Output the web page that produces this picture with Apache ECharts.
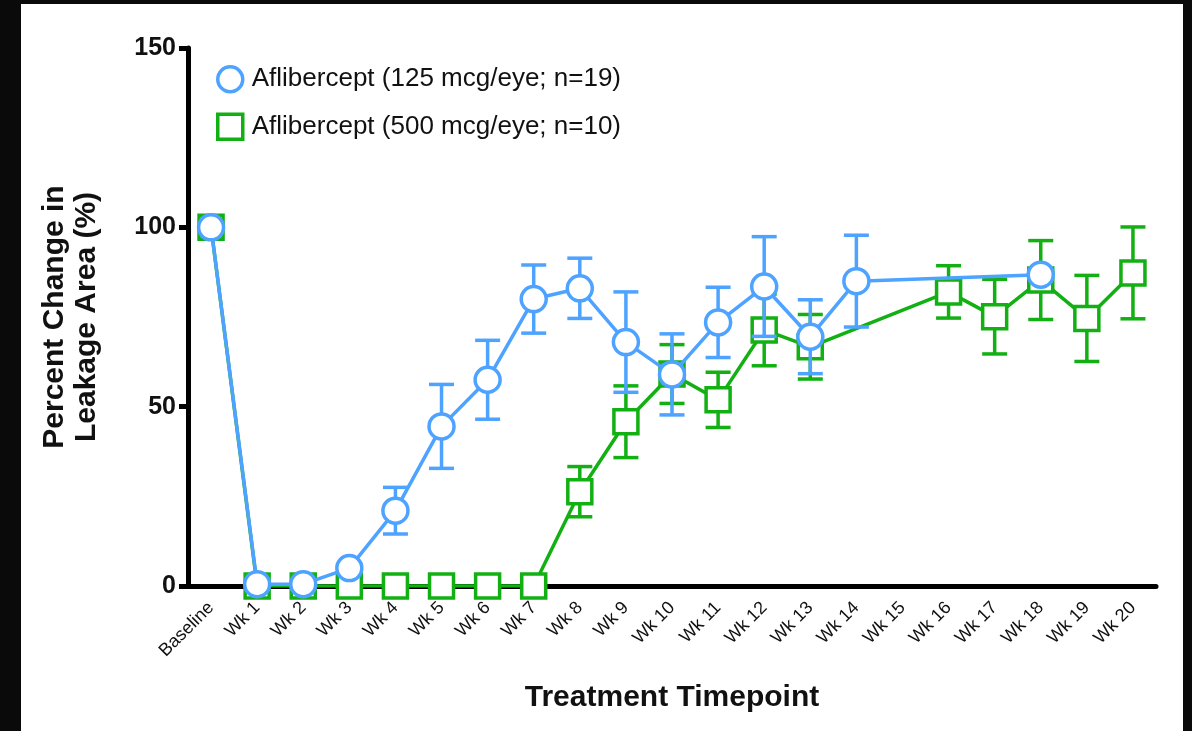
<!DOCTYPE html>
<html>
<head>
<meta charset="utf-8">
<script src="https://cdn.jsdelivr.net/npm/echarts@6/dist/echarts.min.js"></script>
<style>
html,body{margin:0;padding:0;background:#fff;}
#chart{width:1192px;height:731px;}
</style>
</head>
<body>
<div id="chart"></div>
<script>
var categories = ['Baseline','Wk 1','Wk 2','Wk 3','Wk 4','Wk 5','Wk 6','Wk 7','Wk 8','Wk 9','Wk 10','Wk 11','Wk 12','Wk 13','Wk 14','Wk 15','Wk 16','Wk 17','Wk 18','Wk 19','Wk 20'];
var yTicks = [0, 50, 100, 150];
var lowDoseName = 'Aflibercept (125 mcg/eye; n=19)';
var highDoseName = 'Aflibercept (500 mcg/eye; n=10)';
var lowDoseMean = [100, 0.5, 0.5, 5, 21, 44.5, 57.5, 80, 83, 68, 59, 73.5, 83.5, 69.5, 85, null, null, null, 86.8, null, null];
var lowDoseErr  = [null, null, null, null, 6.5, 11.7, 11, 9.5, 8.4, 14, 11.3, 9.8, 13.9, 10.3, 12.8, null, null, null, null, null, null];
var highDoseMean = [100, 0, 0, 0, 0, 0, 0, 0, 26.3, 45.8, 59.1, 51.9, 71.4, 66.7, null, null, 82, 75.1, 85.3, 74.6, 87.3];
var highDoseErr  = [null, null, null, null, null, null, null, null, 7, 10, 8.2, 7.7, 10, 9, null, null, 7.3, 10.4, 11, 12, 12.8];

var blue = '#4da3ff';
var green = '#12b012';

function errData(mean, err) {
  var out = [];
  for (var i = 0; i < mean.length; i++) {
    if (mean[i] != null && err[i] != null) out.push([i, mean[i] - err[i], mean[i] + err[i]]);
  }
  return out;
}
function errRender(color) {
  return function (params, api) {
    var x = api.value(0);
    var lo = api.coord([x, api.value(1)]);
    var hi = api.coord([x, api.value(2)]);
    var hw = 12.5;
    var st = {stroke: color, lineWidth: 3.5};
    return {type: 'group', children: [
      {type: 'line', shape: {x1: lo[0], y1: lo[1], x2: hi[0], y2: hi[1]}, style: st},
      {type: 'line', shape: {x1: hi[0] - hw, y1: hi[1], x2: hi[0] + hw, y2: hi[1]}, style: st},
      {type: 'line', shape: {x1: lo[0] - hw, y1: lo[1], x2: lo[0] + hw, y2: lo[1]}, style: st}
    ]};
  };
}

var chart = echarts.init(document.getElementById('chart'));
chart.setOption({
  animation: false,
  backgroundColor: '#ffffff',
  textStyle: {fontFamily: 'Liberation Sans, Arial, sans-serif'},
  graphic: [
    {type: 'rect', shape: {x: 0, y: 0, width: 21, height: 731}, style: {fill: '#0a0a0a'}, z: 100},
    {type: 'rect', shape: {x: 0, y: 0, width: 1192, height: 4}, style: {fill: '#0a0a0a'}, z: 100},
    {type: 'rect', shape: {x: 1183, y: 0, width: 9, height: 731}, style: {fill: '#0a0a0a'}, z: 100}
  ],
  grid: {left: 188, right: 36, top: 48, bottom: 145},
  legend: {
    orient: 'vertical', left: 211, top: 60,
    itemWidth: 25, itemHeight: 25, itemGap: 19,
    textStyle: {fontSize: 26, color: '#111', fontFamily: 'Liberation Sans, Arial, sans-serif', padding: [0, 0, 0, 4]},
    data: [
      {name: lowDoseName, icon: 'circle', itemStyle: {color: '#fff', borderColor: blue, borderWidth: 3.5}},
      {name: highDoseName, icon: 'rect', itemStyle: {color: '#fff', borderColor: green, borderWidth: 3.5}}
    ]
  },
  xAxis: {
    type: 'category', data: categories, boundaryGap: true,
    name: 'Treatment Timepoint', nameLocation: 'middle', nameGap: 97,
    nameTextStyle: {fontSize: 30, fontWeight: 'bold', color: '#111'},
    axisLine: {lineStyle: {color: '#000', width: 5}},
    axisTick: {alignWithLabel: true, length: 9, lineStyle: {color: '#000', width: 5}},
    axisLabel: {rotate: 45, fontSize: 18, color: '#111', margin: 19, interval: 0}
  },
  yAxis: {
    type: 'value', min: 0, max: 150, interval: 50,
    name: 'Percent Change in\nLeakage Area (%)', nameLocation: 'middle', nameGap: 85,
    nameTextStyle: {fontSize: 30, fontWeight: 'bold', color: '#111', lineHeight: 32},
    axisLine: {show: true, lineStyle: {color: '#000', width: 5}},
    axisTick: {show: true, length: 9, lineStyle: {color: '#000', width: 5}},
    splitLine: {show: false},
    axisLabel: {fontSize: 25, fontWeight: 'bold', color: '#111', margin: 12,
      formatter: function (v) { return yTicks.indexOf(v) >= 0 ? String(v) : ''; }}
  },
  series: [
    {type: 'custom', name: highDoseName + ' err', data: errData(highDoseMean, highDoseErr), renderItem: errRender(green), z: 1, silent: true},
    {type: 'line', name: highDoseName, data: highDoseMean, connectNulls: true, z: 2,
      symbol: 'rect', symbolSize: 24, showAllSymbol: true,
      lineStyle: {color: green, width: 3.5},
      itemStyle: {color: '#fff', borderColor: green, borderWidth: 3.5}},
    {type: 'custom', name: lowDoseName + ' err', data: errData(lowDoseMean, lowDoseErr), renderItem: errRender(blue), z: 3, silent: true},
    {type: 'line', name: lowDoseName, data: lowDoseMean, connectNulls: true, z: 4,
      symbol: 'circle', symbolSize: 25, showAllSymbol: true,
      lineStyle: {color: blue, width: 3.5},
      itemStyle: {color: '#fff', borderColor: blue, borderWidth: 3.5}}
  ]
});
</script>
</body>
</html>
